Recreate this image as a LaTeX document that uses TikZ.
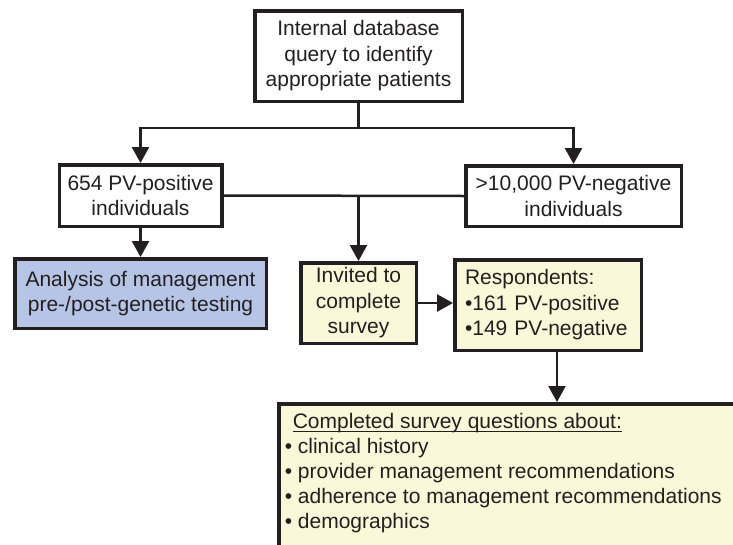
\documentclass[tikz,border=0pt]{standalone}
\usepackage{fontspec}
\setmainfont{Liberation Sans}
\usetikzlibrary{arrows.meta}
\definecolor{ink}{HTML}{231F20}
\definecolor{yfill}{HTML}{FBF8D9}
\definecolor{bfill}{HTML}{B6C5E5}
\newcommand{\ultext}[1]{\setbox0\hbox{#1}\rlap{\color{ink}\rule[-3.2pt]{\wd0}{1.3pt}}\box0}
\begin{document}
\begin{tikzpicture}[x=1pt,y=-1pt,
  boxnode/.style={draw=ink, line width=3.5pt, inner sep=0pt, align=center, text=ink, font=\fontsize{21}{25.5}\selectfont},
  wbox/.style={boxnode, fill=white},
  ybox/.style={boxnode, fill=yfill},
  bbox/.style={boxnode, fill=bfill},
  conn/.style={draw=ink, line width=2.5pt},
  arr/.style={conn, -{Triangle[length=16pt,width=17pt]}}]
\useasboundingbox (0,0) rectangle (733,544);
\clip (0,0) rectangle (733,544);
\node[wbox, minimum width=207.5pt, minimum height=90.5pt] (top) at (358.5,56) {Internal database\\query to identify\\appropriate patients};
\node[wbox, minimum width=162.5pt, minimum height=61.5pt] (left) at (140.5,195.5) {654 PV-positive\\individuals};
\node[wbox, minimum width=215.5pt, minimum height=60.5pt] (right) at (573.5,196) {>10,000 PV-negative\\individuals};
\node[bbox, minimum width=251.5pt, minimum height=69.5pt] (analysis) at (140.5,293.5) {Analysis of management\\pre-/post-genetic testing};
\node[ybox, minimum width=115.5pt, minimum height=80.5pt] (invited) at (358.5,303) {Invited to\\complete\\survey};
\node[ybox, minimum width=186.5pt, minimum height=90.5pt, align=left, text width=166pt] (resp) at (548,305) {Respondents:\\•161 PV-positive\\•149 PV-negative};
\node[ybox, anchor=north west, inner xsep=6pt, inner ysep=10pt, align=left] (bottom) at (277,402) {\parbox[c][175pt][t]{480pt}{\fontsize{21}{25}\selectfont\raggedright\hspace*{8pt}\ultext{Completed survey questions about:}\\• clinical history\\• provider management recommendations\\• adherence to management recommendations\\• demographics}};
\coordinate (j1) at (358.5,128);
\draw[conn] (top.south) -- (j1);
\draw[arr] (j1) -| (left.north);
\draw[arr] (j1) -| (right.north);
\draw[conn] (left.east) -- (right.west);
\coordinate (j2) at (invited.north |- left.east);
\draw[arr] (j2) -- (invited.north);
\draw[arr] (left.south) -- (analysis.north);
\draw[arr] (invited.east) -- (invited.east -| resp.west);
\coordinate (rs) at ([xshift=9pt]resp.south);
\draw[arr] (rs) -- (rs |- bottom.north);
\end{tikzpicture}
\end{document}
